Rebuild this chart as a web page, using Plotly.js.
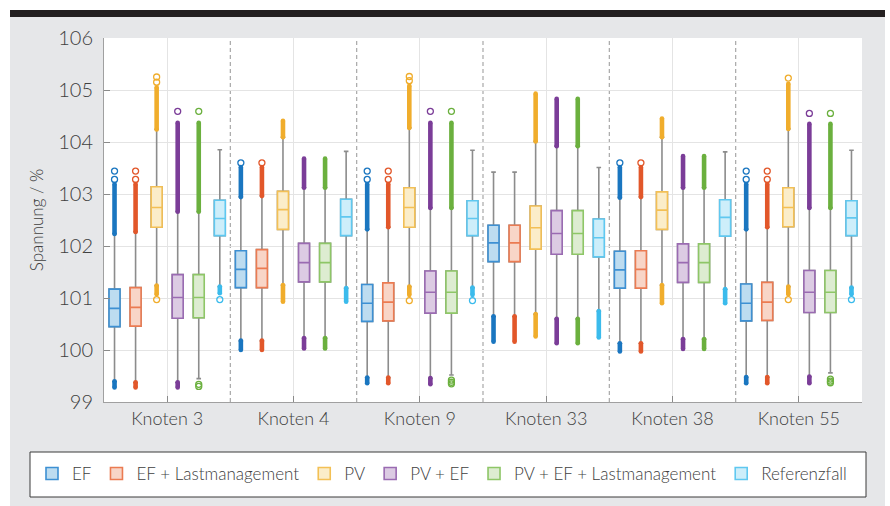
<!DOCTYPE html>
<html>
<head>
<meta charset="utf-8">
<script src="https://cdn.plot.ly/plotly-3.0.1.min.js"></script>
<style>html,body{margin:0;padding:0;background:#fff;}#chart{width:890px;height:506px;}</style>
</head>
<body>
<div id="chart"></div>
<script>
// ---------- DATA ----------
const groups = ['Knoten 3', 'Knoten 4', 'Knoten 9', 'Knoten 33', 'Knoten 38', 'Knoten 55'];
const seriesNames = ['EF', 'EF + Lastmanagement', 'PV', 'PV + EF', 'PV + EF + Lastmanagement', 'Referenzfall'];

// EF
const efQ1  = [100.45, 101.20, 100.55, 101.70, 101.19, 100.56];
const efMed = [100.80, 101.55, 100.90, 102.06, 101.54, 100.90];
const efQ3  = [101.17, 101.91, 101.26, 102.40, 101.90, 101.27];
const efLo  = [99.40, 100.18, 99.47, 100.65, 100.13, 99.48];
const efHi  = [102.23, 102.94, 102.32, 103.42, 102.93, 102.32];
const efOutTop = [103.19, 103.52, 103.19, null, 103.52, 103.19];
const efOutBot = [99.28, 100.00, 99.36, 100.16, 99.97, 99.36];
const efPts = [[103.28, 103.44], [103.60], [103.28, 103.44], [], [103.60], [103.28, 103.44]];

// EF + Lastmanagement
const eflQ1  = [100.46, 101.20, 100.56, 101.70, 101.19, 100.57];
const eflMed = [100.82, 101.57, 100.92, 102.06, 101.55, 100.92];
const eflQ3  = [101.20, 101.93, 101.29, 102.40, 101.91, 101.30];
const eflLo  = [99.38, 100.18, 99.47, 100.65, 100.13, 99.48];
const eflHi  = [102.27, 102.96, 102.36, 103.42, 102.94, 102.36];
const eflOutTop = [103.19, 103.52, 103.19, null, 103.52, 103.19];
const eflOutBot = [99.28, 100.00, 99.36, 100.16, 99.97, 99.36];
const eflPts = [[103.28, 103.44], [103.60], [103.28, 103.44], [], [103.60], [103.28, 103.44]];

// PV
const pvQ1  = [102.36, 102.32, 102.36, 101.94, 102.32, 102.37];
const pvMed = [102.74, 102.70, 102.74, 102.35, 102.69, 102.74];
const pvQ3  = [103.14, 103.05, 103.12, 102.77, 103.04, 103.12];
const pvLo  = [101.24, 101.25, 101.22, 100.69, 101.25, 101.22];
const pvHi  = [104.24, 104.09, 104.27, 104.01, 104.09, 104.25];
const pvOutTop = [105.05, 104.41, 105.08, 104.93, 104.45, 105.12];
const pvOutBot = [101.07, 100.93, 101.06, 100.26, 100.90, 101.07];
const pvPts = [[105.15, 105.25, 100.97], [], [105.18, 105.26, 100.95], [], [], [105.23, 100.97]];

// PV + EF
const pveQ1  = [100.61, 101.31, 100.71, 101.84, 101.30, 100.72];
const pveMed = [101.01, 101.68, 101.11, 102.24, 101.68, 101.11];
const pveQ3  = [101.45, 102.05, 101.52, 102.68, 102.04, 101.53];
const pveLo  = [99.38, 100.23, 99.46, 100.60, 100.21, 99.49];
const pveHi  = [102.66, 103.12, 102.73, 103.92, 103.12, 102.73];
const pveOutTop = [104.37, 103.68, 104.37, 104.83, 103.73, 104.35];
const pveOutBot = [99.28, 100.03, 99.34, 100.13, 100.02, 99.36];
const pvePts = [[104.59], [], [104.59], [], [], [104.55]];

// PV + EF + Lastmanagement
const pvelQ1  = [100.62, 101.31, 100.71, 101.84, 101.30, 100.72];
const pvelMed = [101.01, 101.68, 101.11, 102.24, 101.68, 101.11];
const pvelQ3  = [101.45, 102.05, 101.52, 102.68, 102.04, 101.53];
const pvelLo  = [99.45, 100.23, 99.52, 100.60, 100.21, 99.56];
const pvelHi  = [102.66, 103.12, 102.73, 103.92, 103.12, 102.73];
const pvelOutTop = [104.37, 103.68, 104.37, 104.83, 103.73, 104.35];
const pvelOutBot = [null, 100.03, null, 100.13, 100.02, null];
const pvelPts = [[104.59, 99.34, 99.30], [], [104.59, 99.42, 99.38, 99.35], [], [], [104.55, 99.44, 99.40, 99.37]];

// Referenzfall
const refQ1  = [102.20, 102.20, 102.20, 101.79, 102.19, 102.20];
const refMed = [102.53, 102.56, 102.53, 102.16, 102.55, 102.54];
const refQ3  = [102.88, 102.90, 102.87, 102.52, 102.89, 102.87];
const refLo  = [101.22, 101.19, 101.20, 100.75, 101.17, 101.20];
const refHi  = [103.85, 103.82, 103.84, 103.51, 103.81, 103.84];
const refOutTop = [null, null, null, null, null, null];
const refOutBot = [101.09, 100.93, 101.06, 100.24, 100.90, 101.07];
const refPts = [[100.97], [], [100.95], [], [], [100.97]];

// ---------- STYLE ----------
const darkColors = ['#1a76c0', '#e2572a', '#f0ad2c', '#7b3d98', '#6bb03e', '#3bbbec'];
const lineColors = ['#3d90d3', '#eb7b52', '#f3c055', '#9a6bb2', '#8ec667', '#5fc8f0'];
const fillColors = ['#bddcf0', '#f8d5c7', '#fbedc9', '#dccbe3', '#ddecd1', '#cdeefa'];
const whiskerColor = '#8c8c8c';

const allSeries = [
  [efQ1, efMed, efQ3, efLo, efHi, efOutTop, efOutBot, efPts],
  [eflQ1, eflMed, eflQ3, eflLo, eflHi, eflOutTop, eflOutBot, eflPts],
  [pvQ1, pvMed, pvQ3, pvLo, pvHi, pvOutTop, pvOutBot, pvPts],
  [pveQ1, pveMed, pveQ3, pveLo, pveHi, pveOutTop, pveOutBot, pvePts],
  [pvelQ1, pvelMed, pvelQ3, pvelLo, pvelHi, pvelOutTop, pvelOutBot, pvelPts],
  [refQ1, refMed, refQ3, refLo, refHi, refOutTop, refOutBot, refPts]
];

const nS = seriesNames.length;
const slot = 1 / nS;
const boxW = slot * 0.52;
const FONT = 'Lato, "Open Sans", sans-serif';
const TXT = '#404040';

const whiskerTraces = [], boxTraces = [], bandTraces = [], ptTraces = [];
allSeries.forEach((s, k) => {
  const [q1, med, q3, lo, hi, outTop, outBot, pts] = s;
  const xs = groups.map((_, g) => g + (k - (nS - 1) / 2) * slot);
  whiskerTraces.push({
    type: 'box', x: xs, q1: q1, median: med, q3: q3, lowerfence: lo, upperfence: hi,
    width: boxW, whiskerwidth: 0.42, boxpoints: false,
    line: {color: whiskerColor, width: 1.6}, fillcolor: 'rgba(0,0,0,0)',
    showlegend: false, hoverinfo: 'skip'
  });
  boxTraces.push({
    type: 'box', name: seriesNames[k], x: xs, q1: q1, median: med, q3: q3,
    lowerfence: q1, upperfence: q3, width: boxW, whiskerwidth: 0, boxpoints: false,
    line: {color: lineColors[k], width: 1.6}, fillcolor: fillColors[k], showlegend: true
  });
  const bx = [], by = [];
  xs.forEach((x, g) => {
    if (outTop[g] !== null) { bx.push(x, x, null); by.push(hi[g], outTop[g], null); }
    if (outBot[g] !== null) { bx.push(x, x, null); by.push(lo[g], outBot[g], null); }
  });
  bandTraces.push({
    type: 'scatter', mode: 'lines+markers', x: bx, y: by,
    line: {color: darkColors[k], width: 4.6},
    marker: {color: darkColors[k], size: 4.6, symbol: 'circle'},
    showlegend: false, hoverinfo: 'skip', connectgaps: false
  });
  const px = [], py = [];
  xs.forEach((x, g) => { pts[g].forEach(v => { px.push(x); py.push(v); }); });
  ptTraces.push({
    type: 'scatter', mode: 'markers', x: px, y: py,
    marker: {symbol: 'circle-open', size: 6, color: darkColors[k], line: {width: 1.3, color: darkColors[k]}},
    showlegend: false, hoverinfo: 'skip'
  });
});

// ---------- LAYOUT ----------
const W = 890, H = 506;
const M = {l: 104, r: 28, t: 38, b: 104, autoexpand: false};
const pxX = p => (p - M.l) / (W - M.l - M.r);
const pxY = p => (H - M.b - p) / (H - M.t - M.b);

const shapes = [];
// group separators
for (let g = 0; g < groups.length - 1; g++) {
  shapes.push({type: 'line', xref: 'x', yref: 'paper', x0: g + 0.5, x1: g + 0.5, y0: 0, y1: 1,
    line: {color: '#a8a8a8', width: 1.2, dash: '4px,3px'}, layer: 'below'});
}
// frame decorations
shapes.push({type: 'rect', xref: 'paper', yref: 'paper', x0: pxX(-5), x1: pxX(W + 5), y0: pxY(-5), y1: pxY(10),
  fillcolor: '#ffffff', line: {width: 0}, layer: 'above'});
shapes.push({type: 'rect', xref: 'paper', yref: 'paper', x0: pxX(-5), x1: pxX(10), y0: pxY(H + 5), y1: pxY(-5),
  fillcolor: '#ffffff', line: {width: 0}, layer: 'above'});
shapes.push({type: 'rect', xref: 'paper', yref: 'paper', x0: pxX(885), x1: pxX(W + 5), y0: pxY(H + 5), y1: pxY(-5),
  fillcolor: '#ffffff', line: {width: 0}, layer: 'above'});
shapes.push({type: 'rect', xref: 'paper', yref: 'paper', x0: pxX(10), x1: pxX(885), y0: pxY(17), y1: pxY(10),
  fillcolor: '#231f20', line: {width: 0}, layer: 'above'});
// legend frame
shapes.push({type: 'rect', xref: 'paper', yref: 'paper', x0: pxX(30), x1: pxX(866), y0: pxY(497), y1: pxY(452),
  fillcolor: '#ffffff', line: {color: '#3a3a3a', width: 1}, layer: 'below'});

const layout = {
  width: W, height: H,
  margin: M,
  paper_bgcolor: '#e6e7e9',
  plot_bgcolor: '#ffffff',
  font: {family: FONT, color: TXT, size: 16},
  boxmode: 'overlay',
  showlegend: true,
  legend: {
    orientation: 'h', xref: 'paper', yref: 'paper',
    x: pxX(32), xanchor: 'left', y: pxY(474), yanchor: 'middle',
    bgcolor: 'rgba(0,0,0,0)', borderwidth: 0,
    font: {family: FONT, size: 17, color: TXT, weight: 300},
    traceorder: 'normal', itemclick: false
  },
  xaxis: {
    range: [-0.5, groups.length - 0.5],
    tickvals: groups.map((_, g) => g), ticktext: groups,
    showgrid: true, gridcolor: '#e4e4e4', gridwidth: 1,
    zeroline: false, showline: true, linecolor: '#a0a0a0', linewidth: 1,
    ticks: 'inside', ticklen: 6, tickcolor: '#8a8a8a', tickwidth: 1,
    tickfont: {family: FONT, size: 18, color: TXT, weight: 300},
    ticklabelstandoff: 0, fixedrange: true
  },
  yaxis: {
    range: [99, 106], dtick: 1, tick0: 99,
    showgrid: true, gridcolor: '#e4e4e4', gridwidth: 1,
    zeroline: false, showline: true, linecolor: '#a0a0a0', linewidth: 1,
    ticks: 'inside', ticklen: 6, tickcolor: '#8a8a8a',
    tickfont: {family: FONT, size: 20, color: TXT, weight: 300},
    ticklabelstandoff: 6,
    title: {text: 'Spannung / %', font: {family: FONT, size: 17, color: TXT, weight: 300}, standoff: 10},
    fixedrange: true
  },
  shapes: shapes
};

Plotly.newPlot('chart', [...whiskerTraces, ...boxTraces, ...bandTraces, ...ptTraces], layout,
  {displayModeBar: false, staticPlot: true});
</script>
</body>
</html>
